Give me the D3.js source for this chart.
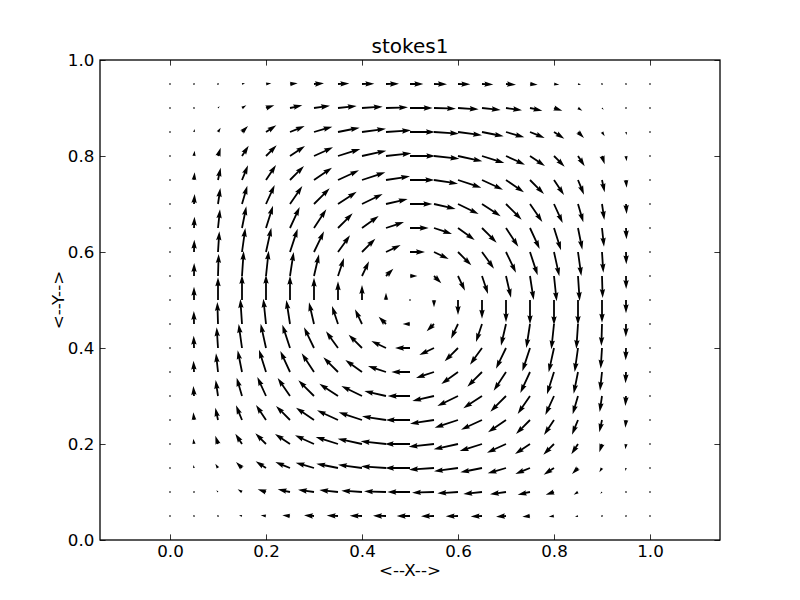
<!DOCTYPE html>
<html>
<head>
<meta charset="utf-8">
<script src="https://cdn.jsdelivr.net/npm/d3@7/dist/d3.min.js"></script>
<style>
  body { margin: 0; background: #fff; }
  text { font-family: "DejaVu Sans", sans-serif; fill: #000; }
</style>
</head>
<body>
<div id="chart"></div>
<script>
// grid of the vector field (columns = x, rows = y from top to bottom)
var xGrid = [0.0, 0.05, 0.1, 0.15, 0.2, 0.25, 0.3, 0.35, 0.4, 0.45, 0.5,
             0.55, 0.6, 0.65, 0.7, 0.75, 0.8, 0.85, 0.9, 0.95, 1.0];
var yGrid = [0.95, 0.9, 0.85, 0.8, 0.75, 0.7, 0.65, 0.6, 0.55, 0.5,
             0.45, 0.4, 0.35, 0.3, 0.25, 0.2, 0.15, 0.1, 0.05];

// x component, one row per yGrid entry
var uRows = [
  [0, 0.5, 3, 9, 16, 23, 30, 34, 37, 39, 40, 39, 37, 34, 30, 23, 16, 9, 3, 0.5, 0],
  [0, 1, 5, 13, 25, 37, 48, 56, 62, 66, 68, 66, 62, 56, 48, 37, 25, 13, 5, 1, 0],
  [0, 2, 8, 18, 31, 44, 55, 65, 72, 75, 75, 75, 72, 65, 55, 44, 31, 18, 8, 2, 0],
  [0, 2, 8, 20, 32, 45, 57, 67, 73, 76, 76, 76, 73, 67, 57, 45, 32, 20, 8, 2, 0],
  [0, 2, 8, 18, 30, 42, 54, 63, 70, 72, 73, 72, 70, 63, 54, 42, 30, 18, 8, 2, 0],
  [0, 2, 7, 16, 26, 37, 47, 56, 62, 65, 67, 65, 62, 56, 47, 37, 26, 16, 7, 2, 0],
  [0, 1.5, 6, 13, 21, 29, 37, 44, 50, 54, 56, 54, 50, 44, 37, 29, 21, 13, 6, 1.5, 0],
  [0, 1, 4, 10, 16, 23, 30, 36, 40, 44, 45, 44, 40, 36, 30, 23, 16, 10, 4, 1, 0],
  [0, 0.5, 2, 5, 8, 11, 15, 18, 21, 22, 22, 22, 21, 18, 15, 11, 8, 5, 2, 0.5, 0],
  [0, 0, 0, 0, 0, 0, 0, 0, 0, 0, 0, 0, 0, 0, 0, 0, 0, 0, 0, 0, 0],
  [0, -0.5, -2, -5, -8, -11, -15, -18, -21, -22, -22, -22, -21, -18, -15, -11, -8, -5, -2, -0.5, 0],
  [0, -1, -4, -10, -16, -23, -30, -36, -40, -44, -45, -44, -40, -36, -30, -23, -16, -10, -4, -1, 0],
  [0, -1.5, -6, -13, -21, -29, -37, -44, -50, -54, -56, -54, -50, -44, -37, -29, -21, -13, -6, -1.5, 0],
  [0, -2, -7, -16, -26, -37, -47, -56, -62, -65, -67, -65, -62, -56, -47, -37, -26, -16, -7, -2, 0],
  [0, -2, -8, -18, -30, -42, -54, -63, -70, -72, -73, -72, -70, -63, -54, -42, -30, -18, -8, -2, 0],
  [0, -2, -8, -20, -32, -45, -57, -67, -73, -76, -76, -76, -73, -67, -57, -45, -32, -20, -8, -2, 0],
  [0, -2, -8, -18, -31, -44, -55, -65, -72, -75, -75, -75, -72, -65, -55, -44, -31, -18, -8, -2, 0],
  [0, -1, -5, -13, -25, -37, -48, -56, -62, -66, -68, -66, -62, -56, -48, -37, -25, -13, -5, -1, 0],
  [0, -0.5, -3, -9, -16, -23, -30, -34, -37, -39, -40, -39, -37, -34, -30, -23, -16, -9, -3, -0.5, 0]
];

// y component, one row per yGrid entry
var vRows = [
  [0, 0.5, 1, 2, 2, 2, 2, 1.5, 1, 0.5, 0, -0.5, -1, -1.5, -2, -2, -2, -2, -1, -0.5, 0],
  [0, 3, 5, 8, 8, 8, 7, 6, 4, 2, 0, -2, -4, -6, -7, -8, -8, -8, -5, -3, 0],
  [0, 9, 13, 18, 20, 18, 16, 13, 10, 5, 0, -5, -10, -13, -16, -18, -20, -18, -13, -9, 0],
  [0, 16, 25, 31, 32, 30, 26, 21, 16, 8, 0, -8, -16, -21, -26, -30, -32, -31, -25, -16, 0],
  [0, 23, 37, 44, 45, 42, 37, 29, 23, 11, 0, -11, -23, -29, -37, -42, -45, -44, -37, -23, 0],
  [0, 30, 48, 55, 57, 54, 47, 37, 30, 15, 0, -15, -30, -37, -47, -54, -57, -55, -48, -30, 0],
  [0, 34, 56, 65, 67, 63, 56, 44, 36, 18, 0, -18, -36, -44, -56, -63, -67, -65, -56, -34, 0],
  [0, 37, 62, 72, 73, 70, 62, 50, 40, 21, 0, -21, -40, -50, -62, -70, -73, -72, -62, -37, 0],
  [0, 39, 66, 75, 76, 72, 65, 54, 44, 22, 0, -22, -44, -54, -65, -72, -76, -75, -66, -39, 0],
  [0, 40, 68, 75, 76, 73, 67, 56, 45, 22, 0, -22, -45, -56, -67, -73, -76, -75, -68, -40, 0],
  [0, 39, 66, 75, 76, 72, 65, 54, 44, 22, 0, -22, -44, -54, -65, -72, -76, -75, -66, -39, 0],
  [0, 37, 62, 72, 73, 70, 62, 50, 40, 21, 0, -21, -40, -50, -62, -70, -73, -72, -62, -37, 0],
  [0, 34, 56, 65, 67, 63, 56, 44, 36, 18, 0, -18, -36, -44, -56, -63, -67, -65, -56, -34, 0],
  [0, 30, 48, 55, 57, 54, 47, 37, 30, 15, 0, -15, -30, -37, -47, -54, -57, -55, -48, -30, 0],
  [0, 23, 37, 44, 45, 42, 37, 29, 23, 11, 0, -11, -23, -29, -37, -42, -45, -44, -37, -23, 0],
  [0, 16, 25, 31, 32, 30, 26, 21, 16, 8, 0, -8, -16, -21, -26, -30, -32, -31, -25, -16, 0],
  [0, 9, 13, 18, 20, 18, 16, 13, 10, 5, 0, -5, -10, -13, -16, -18, -20, -18, -13, -9, 0],
  [0, 3, 5, 8, 8, 8, 7, 6, 4, 2, 0, -2, -4, -6, -7, -8, -8, -8, -5, -3, 0],
  [0, 0.5, 1, 2, 2, 2, 2, 1.5, 1, 0.5, 0, -0.5, -1, -1.5, -2, -2, -2, -2, -1, -0.5, 0]
];

var xTicks = [0.0, 0.2, 0.4, 0.6, 0.8, 1.0];
var yTicks = [0.0, 0.2, 0.4, 0.6, 0.8, 1.0];
var chartTitle = "stokes1";
var xLabel = "<--X-->";
var yLabel = "<--Y-->";

// set the dimensions and margins of the graph
var margin = {top: 60, right: 80, bottom: 60, left: 100},
    width = 800 - margin.left - margin.right,
    height = 600 - margin.top - margin.bottom;

var svg = d3.select("#chart")
  .append("svg")
    .attr("width", 800)
    .attr("height", 600)
  .append("g")
    .attr("transform", "translate(" + margin.left + "," + margin.top + ")");

// equal aspect: y spans 0..1, x gets the same units per pixel
var half = (width / height) / 2;
var x = d3.scaleLinear().domain([0.5 - half, 0.5 + half]).range([0, width]);
var y = d3.scaleLinear().domain([0, 1]).range([height, 0]);

// arrow length in pixels
var len = d3.scaleLinear().domain([0, 90]).range([0, 30]);
var shaftW = 1.8;

// arrow polygon like matplotlib quiver (in shaft-width units)
function arrowPath(u, v) {
  var L = len(Math.hypot(u, v)) / shaftW;
  var X, Y;
  if (L < 1) {
    X = []; Y = [];
    for (var k = 0; k < 8; k++) {
      X.push(Math.cos(k * Math.PI / 3) * 0.5);
      Y.push(Math.sin(k * Math.PI / 3) * 0.5);
    }
  } else if (L < 5) {
    var s = L / 5;
    X = [0, 0.5, 0, 5, 0, 0.5, 0, 0].map(function(d) { return d * s; });
    Y = [0.5, 0.5, 1.5, 0, -1.5, -0.5, -0.5, 0.5].map(function(d) { return d * s; });
  } else {
    X = [0, L - 4.5, L - 5, L, L - 5, L - 4.5, 0, 0];
    Y = [0.5, 0.5, 1.5, 0, -1.5, -0.5, -0.5, 0.5];
  }
  var th = Math.atan2(v, u), c = Math.cos(th), sn = Math.sin(th);
  var pts = X.map(function(xx, i) {
    return [(xx * c - Y[i] * sn) * shaftW, -(xx * sn + Y[i] * c) * shaftW];
  });
  return "M" + pts.map(function(p) { return p[0].toFixed(2) + "," + p[1].toFixed(2); }).join("L") + "Z";
}

var vectors = [];
yGrid.forEach(function(yy, r) {
  xGrid.forEach(function(xx, c) {
    vectors.push({x: xx, y: yy, u: uRows[r][c], v: vRows[r][c]});
  });
});

// arrows
svg.append("g")
  .selectAll("path")
  .data(vectors)
  .enter()
  .append("path")
    .attr("transform", function(d) { return "translate(" + x(d.x) + "," + y(d.y) + ")"; })
    .attr("d", function(d) { return arrowPath(d.u, d.v); })
    .attr("fill", "#000");

// axes, ticks pointing inward on all four sides
var fmt = d3.format(".1f");
var tick = 5.6;

svg.append("g")
  .attr("transform", "translate(0," + height + ")")
  .call(d3.axisBottom(x).tickValues(xTicks).tickFormat(fmt).tickSize(-tick).tickPadding(5.6));
svg.append("g")
  .call(d3.axisTop(x).tickValues(xTicks).tickFormat("").tickSize(-tick));
svg.append("g")
  .call(d3.axisLeft(y).tickValues(yTicks).tickFormat(fmt).tickSize(-tick).tickPadding(5.6));
svg.append("g")
  .attr("transform", "translate(" + width + ",0)")
  .call(d3.axisRight(y).tickValues(yTicks).tickFormat("").tickSize(-tick));

svg.selectAll(".domain").remove();
svg.selectAll(".tick line").attr("stroke", "#000").attr("stroke-width", 0.8);
svg.selectAll(".tick text")
  .attr("font-family", "'DejaVu Sans', sans-serif")
  .attr("font-size", "16.7px")
  .attr("fill", "#000");

// frame
svg.append("rect")
  .attr("x", 0)
  .attr("y", 0)
  .attr("width", width)
  .attr("height", height)
  .attr("fill", "none")
  .attr("stroke", "#000")
  .attr("stroke-width", 1.3);

// title
svg.append("text")
  .attr("x", width / 2)
  .attr("y", -7)
  .attr("text-anchor", "middle")
  .attr("font-size", "20px")
  .text(chartTitle);

// X axis label
svg.append("text")
  .attr("x", width / 2)
  .attr("y", height + 36)
  .attr("text-anchor", "middle")
  .attr("font-size", "16.7px")
  .text(xLabel);

// Y axis label
svg.append("text")
  .attr("transform", "translate(" + (-36) + "," + (height / 2) + ") rotate(-90)")
  .attr("text-anchor", "middle")
  .attr("font-size", "16.7px")
  .text(yLabel);
</script>
</body>
</html>
